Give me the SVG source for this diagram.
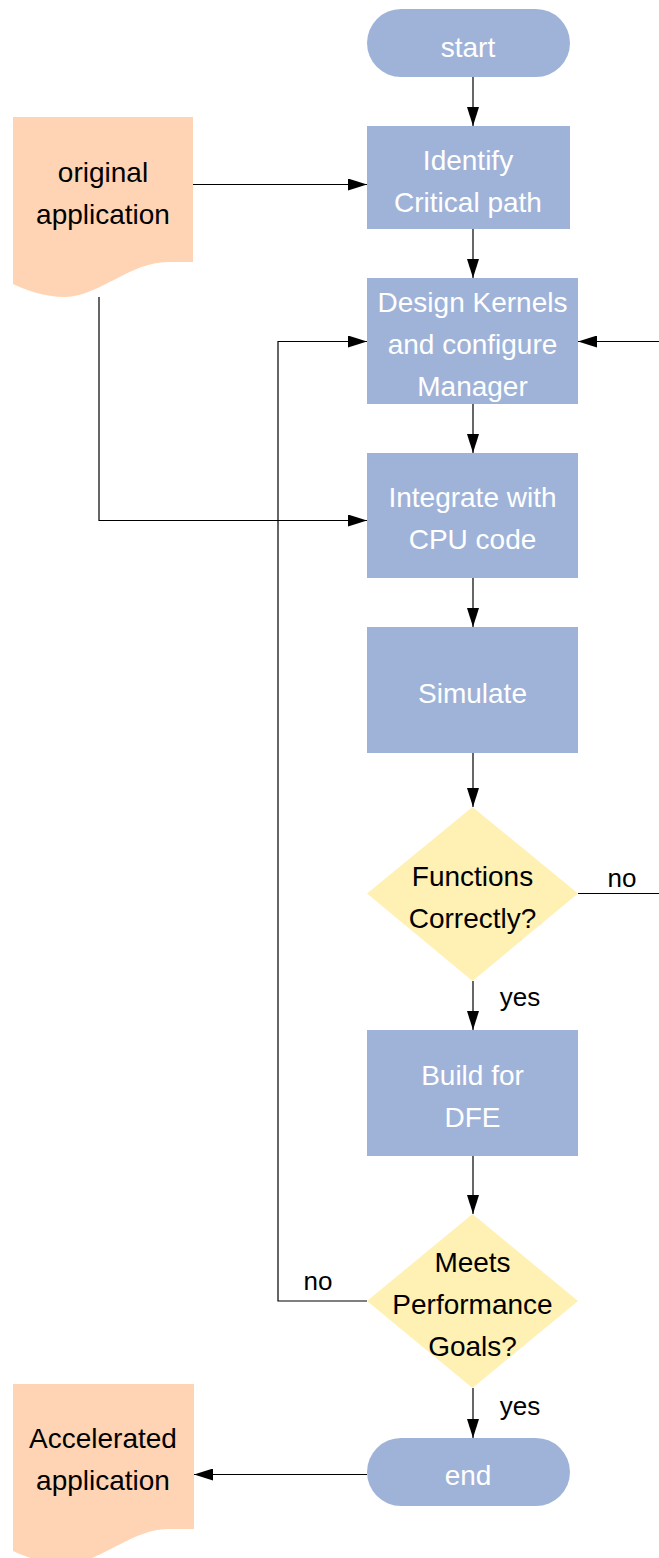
<svg xmlns="http://www.w3.org/2000/svg" width="659" height="1558" viewBox="0 0 659 1558">
<style>
.proc{fill:#9fb3d9}
.dec{fill:#fff0b4}
.doc{fill:#ffd4b4}
.wt{font-family:"Liberation Sans",Arial,sans-serif;font-size:28px;fill:#ffffff;text-anchor:middle}
.bt{font-family:"Liberation Sans",Arial,sans-serif;font-size:28px;fill:#000000;text-anchor:middle}
.lbl{font-family:"Liberation Sans",Arial,sans-serif;font-size:26px;fill:#000000;text-anchor:middle}
.c{fill:none;stroke:#000;stroke-width:1.2}
</style>
<defs>
<marker id="ah" markerWidth="19" markerHeight="12" refX="19" refY="6" orient="auto" markerUnits="userSpaceOnUse">
<path d="M0,0 L19,6 L0,12 Z" fill="#000"/>
</marker>
</defs>
<g id="connectors">
<path class="c" d="M473,77 V126" marker-end="url(#ah)"/>
<path class="c" d="M193,184.5 H367" marker-end="url(#ah)"/>
<path class="c" d="M473,229 V278" marker-end="url(#ah)"/>
<path class="c" d="M659,341.5 H578" marker-end="url(#ah)"/>
<path class="c" d="M367,1301 H278 V341.5 H367" marker-end="url(#ah)"/>
<path class="c" d="M99,297 V520.5 H367" marker-end="url(#ah)"/>
<path class="c" d="M473,404 V453" marker-end="url(#ah)"/>
<path class="c" d="M473,578 V627" marker-end="url(#ah)"/>
<path class="c" d="M473,753 V807" marker-end="url(#ah)"/>
<path class="c" d="M578,893.5 H659"/>
<path class="c" d="M473,981 V1030" marker-end="url(#ah)"/>
<path class="c" d="M473,1156 V1214" marker-end="url(#ah)"/>
<path class="c" d="M473,1388 V1438" marker-end="url(#ah)"/>
<path class="c" d="M367,1474.5 H194" marker-end="url(#ah)"/>
<text class="lbl" x="622" y="887">no</text>
<text class="lbl" x="520" y="1006">yes</text>
<text class="lbl" x="318" y="1290">no</text>
<text class="lbl" x="520" y="1415">yes</text>
</g>
<g id="start">
<rect class="proc" x="367" y="9" width="203" height="68" rx="34" ry="34"/>
<text class="wt" x="468" y="57">start</text>
</g>
<g id="original">
<path class="doc" d="M13,117 H193 V262 H168 C130,262 100,296 65,297 C45,297 25,290 13,284 Z"/>
<text class="bt" x="103" y="182">original</text>
<text class="bt" x="103" y="224">application</text>
</g>
<g id="identify">
<rect class="proc" x="367" y="126" width="203" height="103"/>
<text class="wt" x="468" y="170">Identify</text>
<text class="wt" x="468" y="212">Critical path</text>
</g>
<g id="design">
<rect class="proc" x="367" y="278" width="211" height="126"/>
<text class="wt" x="472.5" y="312">Design Kernels</text>
<text class="wt" x="472.5" y="354">and configure</text>
<text class="wt" x="472.5" y="396">Manager</text>
</g>
<g id="integrate">
<rect class="proc" x="367" y="453" width="211" height="125"/>
<text class="wt" x="472.5" y="507">Integrate with</text>
<text class="wt" x="472.5" y="549">CPU code</text>
</g>
<g id="simulate">
<rect class="proc" x="367" y="627" width="211" height="126"/>
<text class="wt" x="472.5" y="703">Simulate</text>
</g>
<g id="functions">
<path class="dec" d="M472.5,807 L578,893.5 L472.5,981 L367,893.5 Z"/>
<text class="bt" x="472.5" y="886">Functions</text>
<text class="bt" x="472.5" y="928">Correctly?</text>
</g>
<g id="build">
<rect class="proc" x="367" y="1030" width="211" height="126"/>
<text class="wt" x="472.5" y="1085">Build for</text>
<text class="wt" x="472.5" y="1127">DFE</text>
</g>
<g id="meets">
<path class="dec" d="M472.5,1214 L578,1301 L472.5,1388 L367,1301 Z"/>
<text class="bt" x="472.5" y="1272">Meets</text>
<text class="bt" x="472.5" y="1314">Performance</text>
<text class="bt" x="472.5" y="1356">Goals?</text>
</g>
<g id="end">
<rect class="proc" x="367" y="1438" width="203" height="68" rx="34" ry="34"/>
<text class="wt" x="468" y="1485">end</text>
</g>
<g id="accelerated">
<path class="doc" d="M13,1384 H194 V1529 H169 C131,1529 101,1563 66,1564 C46,1564 25,1557 13,1551 Z"/>
<text class="bt" x="103" y="1448">Accelerated</text>
<text class="bt" x="103" y="1490">application</text>
</g>
</svg>
